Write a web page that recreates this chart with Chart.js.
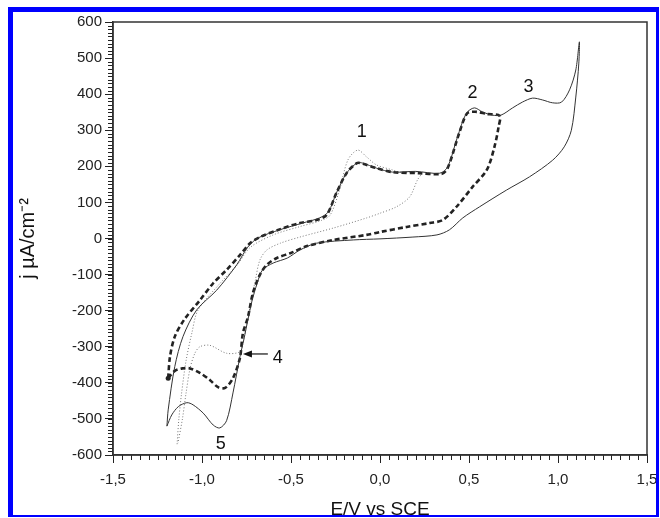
<!DOCTYPE html>
<html>
<head>
<meta charset="utf-8">
<script src="https://cdn.jsdelivr.net/npm/chart.js@4.4.1/dist/chart.umd.min.js"></script>
<style>
  html, body { margin: 0; padding: 0; background: #fff; }
  #wrap { position: relative; width: 660px; height: 518px; overflow: hidden; }
  canvas { position: absolute; left: 0; top: 0; }
  #frame { position: absolute; left: 8px; top: 7px; width: 651px; height: 510px; box-sizing: border-box;
           border-style: solid; border-color: #0000ff; border-width: 5px 3px 2px 5px; pointer-events: none; }
</style>
</head>
<body>
<div id="wrap">
  <canvas id="c" width="660" height="518"></canvas>
  <div id="frame"></div>
</div>
<script>
// ---- Data (E in V vs SCE, j in µA/cm²) ----
const solidE = [-1.197,-1.19,-1.153,-1.107,-1.03,-0.917,-0.805,-0.743,-0.687,-0.564,-0.434,-0.34,-0.29,-0.245,-0.188,-0.13,-0.097,-0.02,0.07,0.2,0.335,0.38,0.435,0.485,0.53,0.575,0.63,0.68,0.745,0.8,0.857,0.913,0.97,1.02,1.065,1.10,1.12,
  1.117,1.1,1.075,1.035,0.97,0.84,0.71,0.56,0.465,0.39,0.32,0.185,0.0,-0.15,-0.357,-0.45,-0.52,-0.6,-0.66,-0.69,-0.72,-0.742,-0.765,-0.787,-0.826,-0.862,-0.9,-0.937,-0.993,-1.05,-1.085,-1.133,-1.17,-1.197];
const solidJ = [-520,-475,-355,-272,-198,-143,-73,-24,1,24,43,57,74,126,181,209,209,195,184,186,181,198,281,347,362,351,342,342,362,378,389,384,376,378,412,467,545,
  486,392,300,254,217,171,134,88,57,24,10,4,-1,-4,-13,-32,-54,-68,-87,-124,-175,-225,-280,-328,-428,-505,-525,-517,-484,-461,-455,-466,-489,-520];

const dashE = [-1.19,-1.18,-1.153,-1.1,-1.01,-0.937,-0.862,-0.787,-0.73,-0.675,-0.56,-0.45,-0.357,-0.3,-0.245,-0.188,-0.13,-0.097,-0.02,0.07,0.22,0.345,0.38,0.445,0.49,0.54,0.6,0.672,
  0.666,0.643,0.6,0.52,0.43,0.352,0.28,0.15,0.0,-0.075,-0.262,-0.41,-0.5,-0.58,-0.636,-0.675,-0.714,-0.742,-0.77,-0.787,-0.826,-0.87,-0.91,-0.956,-1.01,-1.067,-1.11,-1.153,-1.19];
const dashJ = [-387,-328,-272,-225,-170,-124,-87,-46,-13,4,26,43,51,65,126,181,209,207,195,184,181,179,195,292,347,351,345,340,
  309,254,190,143,88,51,43,32,18,10,-4,-21,-40,-54,-73,-101,-151,-218,-262,-331,-387,-414,-412,-392,-373,-360,-360,-367,-387];

const dotE = [-1.14,-1.13,-1.115,-1.09,-1.057,-1.022,-0.9,-0.8,-0.73,-0.6,-0.45,-0.33,-0.28,-0.23,-0.18,-0.125,-0.075,-0.02,0.07,0.11,0.205,0.233,
  0.21,0.166,0.093,0.0,-0.075,-0.262,-0.45,-0.56,-0.636,-0.675,-0.7,-0.73,-0.77,-0.787,-0.862,-0.956,-1.012,-1.04,-1.067,-1.09,-1.11,-1.135];
const dotJ = [-570,-500,-430,-340,-262,-198,-125,-72,-25,10,33,50,65,130,218,245,226,204,190,184,184,181,
  162,115,88,70,57,29,4,-13,-32,-60,-115,-190,-290,-314,-318,-296,-300,-318,-360,-430,-500,-567];

const xTicks = [-1.5,-1.0,-0.5,0.0,0.5,1.0,1.5];
const yTicks = [-600,-500,-400,-300,-200,-100,0,100,200,300,400,500,600];

const annLabels = ['1','2','3','4','5'];
const annE = [-0.103, 0.52, 0.834, -0.574, -0.894];
const annJ = [295, 403, 420, -331, -570];

const FONT = '"Liberation Sans", Arial, Helvetica, sans-serif';

function pts(E, J) { return E.map((e, i) => ({x: e, y: J[i]})); }

const minorTicks = {
  id: 'minorTicks',
  afterDraw(chart) {
    const {ctx, scales: {x, y}} = chart;
    ctx.save();
    ctx.strokeStyle = '#222';
    ctx.lineWidth = 1;
    ctx.beginPath();
    for (let i = 0; i <= 60; i++) {
      const v = xTicks[0] + i * 0.05;
      const px = Math.round(x.getPixelForValue(v)) + 0.5;
      ctx.moveTo(px, y.bottom); ctx.lineTo(px, y.bottom + 5);
    }
    for (let i = 0; i <= 120; i++) {
      const v = yTicks[0] + i * 10;
      const py = Math.round(y.getPixelForValue(v)) + 0.5;
      ctx.moveTo(x.left, py); ctx.lineTo(x.left - 5, py);
    }
    ctx.stroke();
    // plot frame
    const a = chart.chartArea;
    ctx.strokeStyle = '#333';
    ctx.lineWidth = 1.5;
    ctx.strokeRect(a.left, a.top, a.right - a.left, a.bottom - a.top);
    ctx.restore();
  }
};

const annotations = {
  id: 'annotations',
  afterDatasetsDraw(chart) {
    const {ctx, scales: {x, y}} = chart;
    ctx.save();
    ctx.fillStyle = '#111';
    ctx.font = '18px ' + FONT;
    ctx.textAlign = 'center';
    ctx.textBaseline = 'middle';
    annLabels.forEach((t, i) => ctx.fillText(t, x.getPixelForValue(annE[i]), y.getPixelForValue(annJ[i])));
    // arrow for label 4
    const x0 = x.getPixelForValue(-0.63), x1 = x.getPixelForValue(-0.77), ya = y.getPixelForValue(-320);
    ctx.strokeStyle = '#111';
    ctx.lineWidth = 1.2;
    ctx.beginPath(); ctx.moveTo(x0, ya); ctx.lineTo(x1 + 6, ya); ctx.stroke();
    ctx.beginPath(); ctx.moveTo(x1, ya); ctx.lineTo(x1 + 9, ya - 3.5); ctx.lineTo(x1 + 9, ya + 3.5); ctx.closePath(); ctx.fill();
    ctx.restore();
  }
};

new Chart(document.getElementById('c'), {
  type: 'scatter',
  data: {
    datasets: [
      { label: 'solid', data: pts(solidE, solidJ), showLine: true, borderColor: '#333', borderWidth: 1, pointRadius: 0, tension: 0.3, fill: false },
      { label: 'dashed', data: pts(dashE, dashJ), showLine: true, borderColor: '#222', borderWidth: 2.6, borderDash: [5, 3], pointRadius: c => c.dataIndex === 0 ? 2.5 : 0, pointBackgroundColor: '#222', pointBorderWidth: 0, tension: 0.3, fill: false },
      { label: 'dotted', data: pts(dotE, dotJ), showLine: true, borderColor: '#777', borderWidth: 1, borderDash: [1, 2], pointRadius: 0, tension: 0.3, fill: false }
    ]
  },
  options: {
    responsive: false,
    animation: false,
    devicePixelRatio: 1,
    layout: { padding: { left: 0, top: 22, right: 13, bottom: 0 } },
    plugins: { legend: { display: false }, tooltip: { enabled: false } },
    scales: {
      x: {
        type: 'linear', min: -1.5, max: 1.5,
        afterFit(s) { s.height = 63; s.paddingLeft = 0; s.paddingRight = 0; },
        afterBuildTicks(s) { s.ticks = xTicks.map(v => ({value: v})); },
        grid: { display: true, drawOnChartArea: false, drawTicks: true, tickLength: 8, color: '#222', lineWidth: 1 },
        border: { display: true, color: '#333', width: 1.5 },
        ticks: { color: '#222', font: { family: FONT, size: 15 }, padding: 8, maxRotation: 0,
                 callback: v => v.toFixed(1).replace('.', ',') },
        title: { display: true, text: 'E/V vs SCE', color: '#111', font: { family: FONT, size: 19 }, padding: { top: 0, bottom: -3 } }
      },
      y: {
        type: 'linear', min: -600, max: 600,
        afterFit(s) { s.width = 113; s.paddingTop = 0; s.paddingBottom = 0; },
        afterBuildTicks(s) { s.ticks = yTicks.map(v => ({value: v})); },
        grid: { display: true, drawOnChartArea: false, drawTicks: true, tickLength: 8, color: '#222', lineWidth: 1 },
        border: { display: true, color: '#333', width: 1.5 },
        ticks: { color: '#222', font: { family: FONT, size: 15 }, padding: 3, callback: v => String(v) },
        title: { display: true, text: 'j \u00B5A/cm\u207B\u00B2', color: '#111', font: { family: FONT, size: 20 }, padding: { top: 16, bottom: 0 } }
      }
    }
  },
  plugins: [minorTicks, annotations]
});
</script>
</body>
</html>
